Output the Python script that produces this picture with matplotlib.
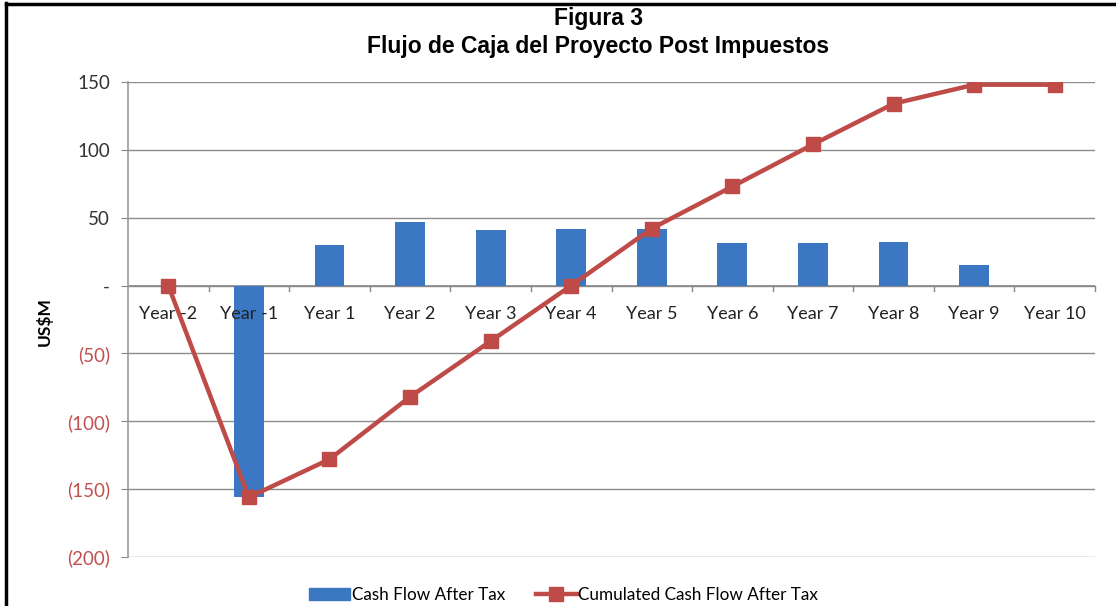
import matplotlib
matplotlib.use("Agg")
import matplotlib.pyplot as plt
from matplotlib.lines import Line2D
from matplotlib.patches import Patch
import numpy as np

categories = ["Year -2", "Year -1", "Year 1", "Year 2", "Year 3", "Year 4",
              "Year 5", "Year 6", "Year 7", "Year 8", "Year 9", "Year 10"]
cash_flow = [0, -156, 30, 47, 41, 42, 42, 31, 31, 32, 15, 0]
cumulated = [0, -156, -128, -82, -41, 0, 42, 73, 104, 134, 148, 148]
y_ticks = [150, 100, 50, 0, -50, -100, -150, -200]
y_tick_labels = ["150", "100", "50", "-", "(50)", "(100)", "(150)", "(200)"]

BAR = "#3b77c2"
LINE = "#be4b48"
NEG = "#c0504d"

fig = plt.figure(figsize=(11.16, 6.06), dpi=100)
ax = fig.add_axes([0.1147, 0.0809, 0.8665, 0.7838])

x = np.arange(len(categories))
ax.bar(x, cash_flow, width=0.37, color=BAR, zorder=2)
ax.plot(x, cumulated, color=LINE, lw=3.2, marker="s", markersize=10,
        markerfacecolor=LINE, markeredgecolor=LINE, zorder=3)

ax.set_xlim(-0.5, len(categories) - 0.5)
ax.set_ylim(-200, 150)
ax.set_yticks(y_ticks)
ax.set_yticklabels(y_tick_labels, fontsize=13.5, fontfamily="Lato")
for lab, v in zip(ax.get_yticklabels(), y_ticks):
    lab.set_color(NEG if v < 0 else "#333333")
ax.tick_params(axis="y", length=5, color="#888888", pad=8, direction="out")
ax.grid(axis="y", color="#8c8c8c", lw=1.0, zorder=0)
ax.set_axisbelow(True)

for s in ["top", "right", "bottom"]:
    ax.spines[s].set_visible(False)
ax.spines["left"].set_color("#9a9a9a")
ax.spines["left"].set_linewidth(1.2)

# x axis at zero
ax.axhline(0, color="#888888", lw=1.2, zorder=1)
ax.set_xticks([])
for i in range(1, len(categories) + 1):
    ax.plot([i - 0.5, i - 0.5], [0, -4], color="#888888", lw=1.0, zorder=1, clip_on=False)
for i, c in enumerate(categories):
    ax.text(i, -21, c, ha="center", va="center", fontsize=13,
            fontfamily="Lato", color="#222222", zorder=4)

ax.set_ylabel("US$M", fontsize=12.5, fontweight="bold", fontfamily="Lato")
ax.yaxis.set_label_coords(-0.0776, 0.495)

fig.text(0.536, 0.97, "Figura 3", ha="center", va="center", fontsize=16.5,
         fontweight="bold", fontfamily="Liberation Sans")
fig.text(0.536, 0.924, "Flujo de Caja del Proyecto Post Impuestos", ha="center",
         va="center", fontsize=16.5, fontweight="bold", fontfamily="Liberation Sans")

handles = [Patch(color=BAR, label="Cash Flow After Tax"),
           Line2D([0], [0], color=LINE, lw=3.2, marker="s", markersize=10,
                  label="Cumulated Cash Flow After Tax")]
fig.legend(handles=handles, loc="center", bbox_to_anchor=(0.505, 0.018), ncol=2,
           frameon=False, prop={"family": "Lato", "size": 12.3},
           handlelength=2.4, columnspacing=1.8, handletextpad=0.1)

# border frame (left and top)
fig.add_artist(Line2D([0.0055, 0.0055], [0, 0.995], color="black", lw=2.5,
                      transform=fig.transFigure))
fig.add_artist(Line2D([0.0055, 1.0], [0.993, 0.993], color="black", lw=2.5,
                      transform=fig.transFigure))

fig.savefig("out.png", dpi=100)
